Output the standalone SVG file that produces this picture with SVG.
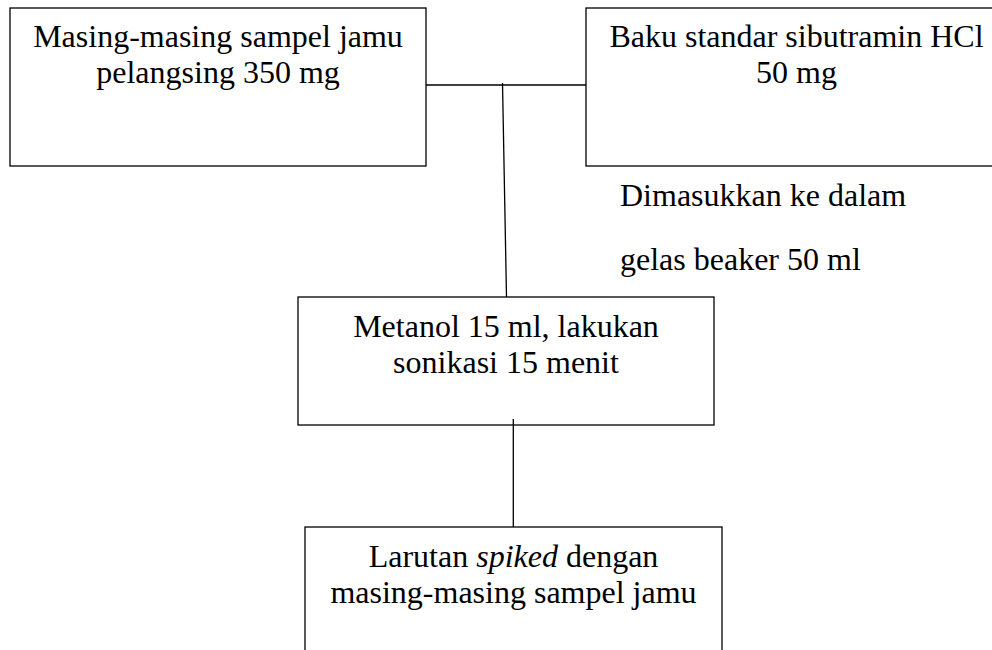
<svg xmlns="http://www.w3.org/2000/svg" width="992" height="650" viewBox="0 0 992 650">
<style>
.box{fill:none;stroke:#000;stroke-width:1.3}
.ln{fill:none;stroke:#000;stroke-width:1.3}
text{font-family:"Liberation Serif","Times New Roman",serif;font-size:32px;fill:#000}
.c{text-anchor:middle}
</style>
<rect width="992" height="650" fill="#fff"/>
<g id="n1">
<rect class="box" x="10" y="8" width="416" height="158"/>
<text class="c" x="218" y="47">Masing-masing sampel jamu</text>
<text class="c" x="218" y="83">pelangsing 350 mg</text>
</g>
<g id="n2">
<rect class="box" x="586" y="8" width="424" height="158"/>
<text class="c" x="796.5" y="47">Baku standar sibutramin HCl</text>
<text class="c" x="796.5" y="83">50 mg</text>
</g>
<g id="label">
<text x="620" y="206">Dimasukkan ke dalam</text>
<text x="620" y="270">gelas beaker 50 ml</text>
</g>
<g id="n3">
<rect class="box" x="298" y="297" width="416" height="128"/>
<text class="c" x="506" y="337">Metanol 15 ml, lakukan</text>
<text class="c" x="506" y="373">sonikasi 15 menit</text>
</g>
<g id="n4">
<rect class="box" x="305" y="527" width="417" height="140"/>
<text class="c" x="513.5" y="567">Larutan <tspan font-style="italic">spiked</tspan> dengan</text>
<text class="c" x="513.5" y="603">masing-masing sampel jamu</text>
</g>
<g id="connectors">
<line class="ln" x1="426" y1="85" x2="586" y2="85"/>
<line class="ln" x1="502.5" y1="83" x2="506.5" y2="297"/>
<line class="ln" x1="513.3" y1="419" x2="513.3" y2="527"/>
</g>
</svg>
